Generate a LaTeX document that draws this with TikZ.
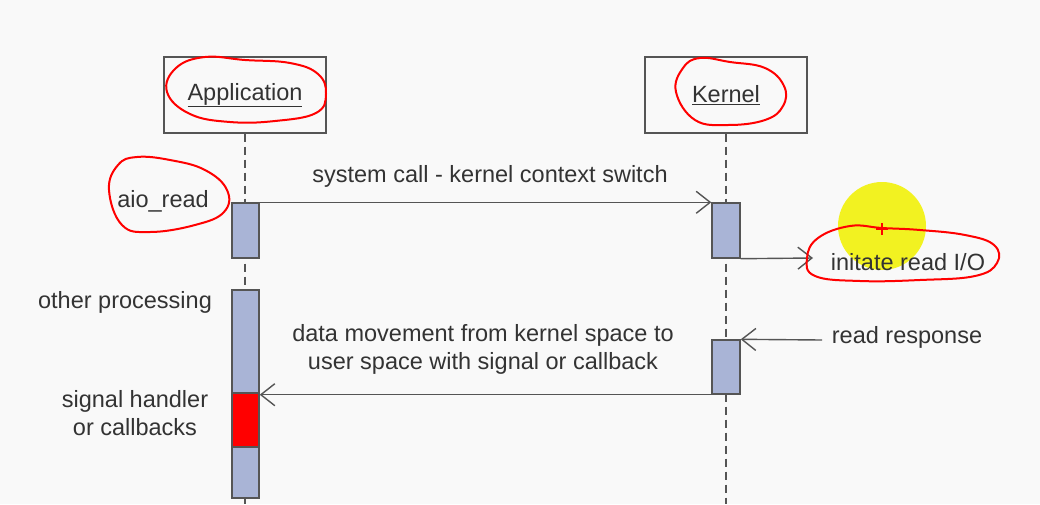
\documentclass[tikz,border=0pt]{standalone}
\usepackage{fontspec}
\setmainfont{Liberation Sans}
\usetikzlibrary{arrows.meta}
\definecolor{bg}{HTML}{F9F9F9}
\definecolor{ink}{HTML}{333333}
\definecolor{ln}{HTML}{555555}
\definecolor{actfill}{HTML}{A9B4D6}
\definecolor{hl}{HTML}{F2F20A}
\tikzset{
  lbl/.style={text=ink, font=\fontsize{23.5}{28}\selectfont, inner sep=0pt, align=center},
  actor/.style={draw=ln, line width=1.4pt, fill=bg, minimum width=162pt, minimum height=76pt, inner sep=0pt, text=ink, font=\fontsize{23.5}{28}\selectfont},
  actbox/.style={draw=ln, line width=1.4pt, fill=actfill, minimum width=27pt, inner sep=0pt},
  lifeline/.style={draw=ln, line width=1.4pt, dash pattern=on 8pt off 5pt},
  msg/.style={draw=ln, line width=1.4pt, -{Straight Barb[length=14pt,width=22pt,line width=1.4pt]}},
  scribble/.style={draw=red, line width=2pt},
}
\begin{document}
\begin{tikzpicture}[x=1pt,y=-1pt]
\fill[bg] (0,0) rectangle (1040,504);
\useasboundingbox (0,0) rectangle (1040,504);
% highlight
\fill[hl, opacity=0.9] (882,226) circle (44);
% actors
\node[actor] (app) at (245,95) {\underline{Application}};
\node[actor] (ker) at (726,95) {\underline{Kernel}};
\coordinate (append) at (245,504);
\coordinate (kerend) at (726,504);
\draw[lifeline] (app.south) -- (append);
\draw[lifeline] (ker.south) -- (kerend);
% activations
\node[actbox, minimum height=55pt] (a1) at (245.5,230.5) {};
\node[actbox, minimum width=28pt, minimum height=55pt] (k1) at (726,230.5) {};
\node[actbox, minimum height=208pt] (a2) at (245.5,394) {};
\node[actbox, fill=red, minimum height=54pt] (cb) at (245.5,420) {};
\node[actbox, minimum width=28pt, minimum height=54pt] (k2) at (726,367) {};
% messages
\coordinate (ioend) at (813,258);
\coordinate (rrstart) at (822,340);
\draw[msg] (a1.north east) -- (k1.north west);
\draw[msg] (k1.south east) -- (ioend);
\draw[msg] (rrstart) -- (k2.north east);
\draw[msg] (k2.south west) -- (a2.east |- k2.south);
% labels
\node[lbl] (l1) at (490,176) {system call - kernel context switch};
\node[lbl] (l2) at (163,201) {aio\_read};
\node[lbl] (l3) at (908,262) {initate read I/O};
\node[lbl] (l4) at (125,302) {other processing};
\node[lbl] (l5) at (907,337) {read response};
\node[lbl] (l6) at (483,349) {data movement from kernel space to\\user space with signal or callback};
\node[lbl] (l7) at (135,413.5) {signal handler\\or callbacks};
% red scribbles
\draw[scribble] plot[smooth cycle, tension=0.7] coordinates {(167,92) (176,68) (205,57) (245,60) (290,63) (318,74) (326,94) (316,113) (275,121) (230,122) (190,114)};
\draw[scribble] plot[smooth cycle, tension=0.7] coordinates {(676,92) (683,68) (700,58) (730,62) (765,68) (784,86) (783,106) (765,120) (728,125) (695,120)};
\draw[scribble] plot[smooth cycle, tension=0.7] coordinates {(109,190) (118,165) (137,157) (170,160) (205,170) (227,190) (224,212) (195,225) (150,232) (122,225)};
\draw[scribble] plot[smooth cycle, tension=0.7] coordinates {(807,258) (818,238) (850,226) (882,228) (920,230) (965,235) (994,245) (997,263) (975,276) (920,280) (860,281) (815,276)};
\draw[red, line width=1.5pt] (876,229) -- (888,229) (882,223) -- (882,235);
\end{tikzpicture}
\end{document}
